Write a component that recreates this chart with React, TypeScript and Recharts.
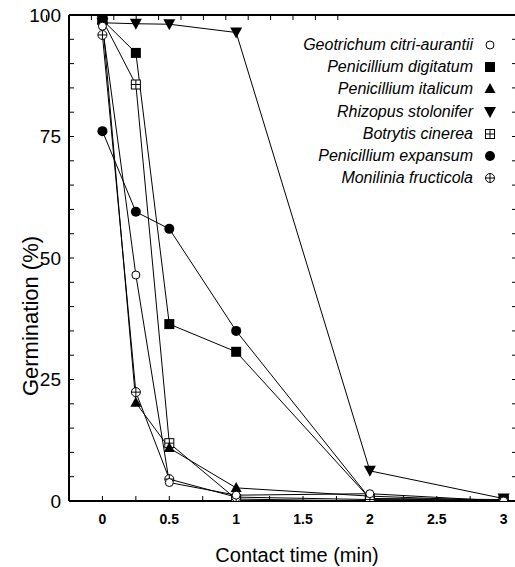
import React from 'react';
import { LineChart, Line, XAxis, YAxis, Legend } from 'recharts';

const times = [0, 0.25, 0.5, 1, 2, 3];

const geotrichum = [97.7, 46.5, 3.8, 1.2, 1.5, 0];
const digitatum = [99, 92.2, 36.4, 30.7, 0.5, 0.3];
const italicum = [99, 20.2, 10.9, 2.7, 1, 0];
const rhizopus = [98.4, 98.2, 98.1, 96.4, 6.2, 0.5];
const botrytis = [99, 85.7, 11.9, 0.4, 0, 0];
const expansum = [76.1, 59.5, 56.0, 35.0, 0.5, 0];
const monilinia = [95.9, 22.4, 4.5, 0.8, 0.3, 0];

const xTicks = [-0.25, 0, 0.25, 0.5, 0.75, 1, 1.25, 1.5, 1.75, 2, 2.25, 2.5, 2.75, 3];
const xLabels = [0, 0.5, 1, 1.5, 2, 2.5, 3];
const yTicks = [0, 5, 10, 15, 20, 25, 30, 35, 40, 45, 50, 55, 60, 65, 70, 75, 80, 85, 90, 95, 100];
const yLabels = [0, 25, 50, 75, 100];

const series = [
  { key: 'geo', name: 'Geotrichum citri-aurantii', marker: 'openCircle', values: geotrichum },
  { key: 'dig', name: 'Penicillium digitatum', marker: 'square', values: digitatum },
  { key: 'ita', name: 'Penicillium italicum', marker: 'triUp', values: italicum },
  { key: 'rhi', name: 'Rhizopus stolonifer', marker: 'triDown', values: rhizopus },
  { key: 'bot', name: 'Botrytis cinerea', marker: 'crossSquare', values: botrytis },
  { key: 'exp', name: 'Penicillium expansum', marker: 'circle', values: expansum },
  { key: 'mon', name: 'Monilinia fructicola', marker: 'crossCircle', values: monilinia },
];

// draw order in the plot (last on top)
const drawOrder = ['exp', 'rhi', 'bot', 'ita', 'dig', 'mon', 'geo'];

const rows = times.map((t, i) => {
  const row: Record<string, number> = { t };
  series.forEach((s) => { row[s.key] = s.values[i]; });
  return row;
});

const FONT = '"Liberation Sans", Arial, sans-serif';

function marker(kind: string, cx: number, cy: number, key?: string) {
  switch (kind) {
    case 'openCircle':
      return <circle key={key} cx={cx} cy={cy} r={4} fill="#fff" stroke="#000" strokeWidth={1} />;
    case 'circle':
      return <circle key={key} cx={cx} cy={cy} r={5} fill="#000" />;
    case 'square':
      return <rect key={key} x={cx - 5} y={cy - 5} width={10} height={10} fill="#000" />;
    case 'triUp':
      return <polygon key={key} points={`${cx},${cy - 6} ${cx - 5.5},${cy + 4} ${cx + 5.5},${cy + 4}`} fill="#000" />;
    case 'triDown':
      return <polygon key={key} points={`${cx - 6},${cy - 5} ${cx + 6},${cy - 5} ${cx},${cy + 6}`} fill="#000" />;
    case 'crossSquare':
      return (
        <g key={key}>
          <rect x={cx - 4.5} y={cy - 4.5} width={9} height={9} fill="#fff" stroke="#000" />
          <line x1={cx} y1={cy - 4.5} x2={cx} y2={cy + 4.5} stroke="#000" />
          <line x1={cx - 4.5} y1={cy} x2={cx + 4.5} y2={cy} stroke="#000" />
        </g>
      );
    case 'crossCircle':
      return (
        <g key={key}>
          <circle cx={cx} cy={cy} r={4.5} fill="#fff" stroke="#000" />
          <line x1={cx} y1={cy - 4.5} x2={cx} y2={cy + 4.5} stroke="#000" />
          <line x1={cx - 4.5} y1={cy} x2={cx + 4.5} y2={cy} stroke="#000" />
        </g>
      );
    default:
      return null;
  }
}

const renderLegend = () => (
  <div style={{ fontFamily: FONT, fontStyle: 'italic', fontSize: 16, color: '#000' }}>
    {series.map((s) => (
      <div key={s.key} style={{ display: 'flex', justifyContent: 'flex-end', alignItems: 'center', height: 22.2 }}>
        <span>{s.name}</span>
        <svg width={14} height={14} style={{ marginLeft: 10 }}>
          {marker(s.marker, 7, 7)}
        </svg>
      </div>
    ))}
  </div>
);

export default function App() {
  return (
    <div style={{ position: 'absolute', left: 0, top: 0, width: 515, height: 567, overflow: 'hidden', background: '#fff' }}>
      <LineChart width={518} height={567} data={rows} margin={{ top: 14, right: 0, bottom: 0, left: 0 }}>
        <XAxis
          xAxisId="b"
          dataKey="t"
          type="number"
          domain={[-0.25, 3.1]}
          allowDataOverflow
          ticks={xTicks}
          interval={0}
          height={66}
          tickSize={-5}
          tickMargin={18}
          axisLine={{ stroke: '#000', strokeWidth: 2 }}
          tickLine={{ stroke: '#000', strokeWidth: 1 }}
          tickFormatter={(v: number) => (xLabels.includes(v) ? String(v) : '')}
          tick={{ fontSize: 14, fontWeight: 'bold', fill: '#000', fontFamily: FONT }}
          label={{ value: 'Contact time (min)', position: 'insideBottom', offset: 5, dx: 4, fontSize: 20, fill: '#000', fontFamily: FONT }}
        />
        <XAxis
          xAxisId="top"
          orientation="top"
          type="number"
          domain={[-0.25, 3.1]}
          allowDataOverflow
          ticks={xTicks}
          interval={0}
          height={1}
          tickSize={-5}
          axisLine={{ stroke: '#000', strokeWidth: 2 }}
          tickLine={{ stroke: '#000', strokeWidth: 1 }}
          tickFormatter={() => ''}
        />
        <YAxis
          yAxisId="l"
          type="number"
          domain={[0, 100]}
          allowDataOverflow
          ticks={yTicks}
          interval={0}
          width={69}
          tickSize={-5}
          tickMargin={13}
          axisLine={{ stroke: '#000', strokeWidth: 2 }}
          tickLine={{ stroke: '#000', strokeWidth: 1 }}
          tickFormatter={(v: number) => (yLabels.includes(v) ? String(v) : '')}
          tick={{ fontSize: 19, fill: '#000', fontFamily: FONT }}
          label={{
            content: () => (
              <text x={30} y={316} transform="rotate(-90 30 316)" textAnchor="middle" dominantBaseline="central"
                fontSize={22} fill="#000" fontFamily={FONT}>
                Germination (%)
              </text>
            ),
          }}
        />
        <YAxis
          yAxisId="r"
          orientation="right"
          type="number"
          domain={[0, 100]}
          allowDataOverflow
          ticks={yTicks}
          interval={0}
          width={1}
          tickSize={-5}
          axisLine={{ stroke: '#000', strokeWidth: 2 }}
          tickLine={{ stroke: '#000', strokeWidth: 1 }}
          tickFormatter={() => ''}
        />
        {drawOrder.map((k) => {
          const s = series.find((x) => x.key === k)!;
          return (
            <Line
              key={k}
              xAxisId="b"
              yAxisId="l"
              dataKey={k}
              name={s.name}
              stroke="#000"
              strokeWidth={1}
              isAnimationActive={false}
              dot={(p: any) => marker(s.marker, p.cx, p.cy, `${k}-${p.index}`)}
              activeDot={false}
            />
          );
        })}
        <Legend
          content={renderLegend}
          layout="horizontal"
          align="center"
          verticalAlign="middle"
          wrapperStyle={{ top: 34, right: 21, left: 'auto', bottom: 'auto', width: 'auto' }}
        />
      </LineChart>
    </div>
  );
}
